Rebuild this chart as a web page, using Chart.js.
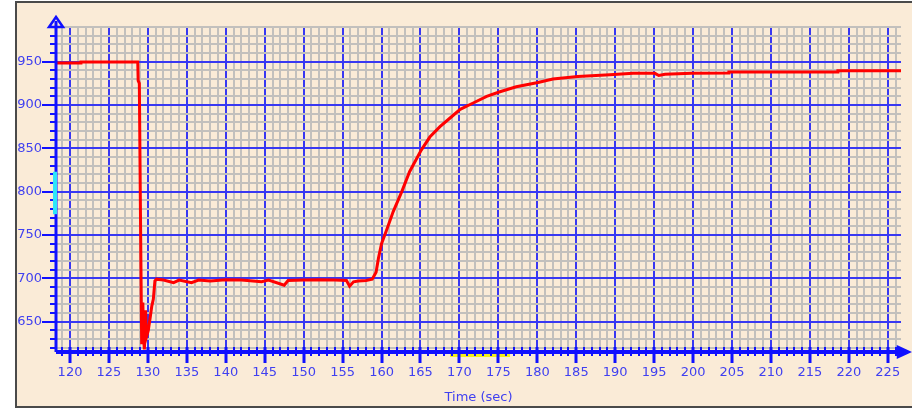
<!DOCTYPE html>
<html>
<head>
<meta charset="utf-8">
<script src="https://cdn.jsdelivr.net/npm/chart.js@4/dist/chart.umd.min.js"></script>
<style>
  html, body { margin: 0; padding: 0; background: #fff; }
  #panel {
    position: absolute; left: 15px; top: 1px; width: 920px; height: 403px;
    background: #faebd7;
    border-left: 2px solid #4a4a4a; border-top: 2px solid #4a4a4a; border-bottom: 2px solid #4a4a4a;
  }
  #wrap { position: absolute; left: 0; top: 0; width: 912px; height: 410px; }
</style>
</head>
<body>
<div id="panel"></div>
<div id="wrap"><canvas id="trend" width="912" height="410"></canvas></div>
<script>
// ── Data ─────────────────────────────────────────────────────────────
const timeSec = [
  118.2, 120, 121.3, 121.4, 125, 128.7, 128.75, 128.9, 129.1, 129.2,
  129.35, 129.45, 129.55, 129.7, 129.8, 130.05, 130.3, 130.5, 130.7, 130.9,
  131.1, 132, 133.3, 134, 135.6, 136.5, 138, 140, 142, 144.6,
  145.5, 147.5, 148, 150, 152, 154, 155.5, 155.9, 156.4, 157,
  158, 158.8, 159.3, 159.6, 160.0, 160.7, 161.5, 162.6, 163.6, 165.1,
  166.2, 167.5, 168.8, 170.1, 171.7, 173.5, 175.1, 177.3, 180.1, 182,
  185.2, 189.3, 192.3, 195.1, 195.6, 196.4, 199.8, 204.5, 204.6, 218.5,
  218.6, 226.7
];
const reading = [
  948.5, 948.5, 948.5, 949.5, 949.5, 949.5, 928, 925, 720, 624,
  672, 630, 618, 663, 632, 640, 655, 668, 676, 697,
  699, 698, 695, 698, 695, 698, 697, 698.5, 698, 696,
  698, 692, 697.5, 698, 698.5, 698, 697.5, 691, 696, 697,
  697.5, 699, 707, 723, 740, 757, 777, 800, 823, 848,
  863, 875, 885, 895, 902, 910, 915, 921, 926, 930,
  933, 935, 936.5, 936.5, 934, 935.5, 936.5, 937, 938, 938,
  939.5, 939.5
];

// axis ranges and tick steps
const xRange = [118.2, 226.7];
const yRange = [615, 990];
const xMinorStep = 1, xMajorStep = 5;
const yMinorStep = 10, yMajorStep = 50;

// marker bands seen on the axes (cursor range on x, highlight on y)
const cursorBand = [168.8, 176.5];
const levelBand  = [774, 823];

const BLUE  = '#3838f2';
const AXIS  = '#1010ff';
const GRAY  = '#c2c0bd';
const LABEL = '#4040f0';

function stepList(from, to, step) {
  const out = [];
  for (let v = from; v <= to + 1e-9; v += step) out.push({ value: v });
  return out;
}

// ── Axis lines, tick marks, arrows and marker bands ──────────────────
const axisDecor = {
  id: 'axisDecor',
  afterDatasetsDraw(chart) {
    const { ctx, chartArea: a, scales: { x, y } } = chart;
    ctx.save();

    // yellow cursor band just under the x axis
    ctx.fillStyle = '#f4ee1c';
    const c0 = x.getPixelForValue(cursorBand[0]), c1 = x.getPixelForValue(cursorBand[1]);
    ctx.fillRect(c0, a.bottom + 2, c1 - c0, 3);

    ctx.strokeStyle = AXIS;
    ctx.fillStyle = AXIS;

    // x axis line + ticks
    ctx.lineWidth = 4;
    ctx.beginPath(); ctx.moveTo(a.left, a.bottom); ctx.lineTo(a.right, a.bottom); ctx.stroke();
    x.ticks.forEach(t => {
      const px = Math.round(x.getPixelForValue(t.value));
      const major = t.value % xMajorStep === 0;
      ctx.lineWidth = major ? 3 : 2;
      ctx.beginPath();
      ctx.moveTo(px, a.bottom - 5);
      ctx.lineTo(px, a.bottom + (major ? 11 : 4));
      ctx.stroke();
    });

    // y axis line + ticks
    ctx.lineWidth = 3;
    ctx.beginPath(); ctx.moveTo(a.left, a.top - 6); ctx.lineTo(a.left, a.bottom); ctx.stroke();
    y.ticks.forEach(t => {
      const py = Math.round(y.getPixelForValue(t.value));
      const major = t.value % yMajorStep === 0;
      ctx.lineWidth = 2;
      ctx.beginPath();
      ctx.moveTo(a.left - (major ? 14 : 6), py);
      ctx.lineTo(a.left, py);
      ctx.stroke();
    });

    // cyan highlight on the y axis
    ctx.fillStyle = '#2de6fa';
    const b0 = y.getPixelForValue(levelBand[1]), b1 = y.getPixelForValue(levelBand[0]);
    ctx.fillRect(a.left - 3, b0, 4, b1 - b0);

    // arrow heads
    ctx.fillStyle = AXIS;
    ctx.lineWidth = 2.5;
    ctx.beginPath();
    ctx.moveTo(a.left, a.top - 10);
    ctx.lineTo(a.left - 7, a.top);
    ctx.lineTo(a.left + 7, a.top);
    ctx.closePath();
    ctx.stroke();
    ctx.beginPath();
    ctx.moveTo(a.right - 3, a.bottom - 5);
    ctx.lineTo(a.right + 8, a.bottom);
    ctx.lineTo(a.right - 3, a.bottom + 5);
    ctx.closePath();
    ctx.fill();
    ctx.stroke();

    ctx.restore();
  },
};

// ── Chart ────────────────────────────────────────────────────────────
const ctx = document.getElementById('trend').getContext('2d');
new Chart(ctx, {
  type: 'line',
  data: {
    datasets: [{
      data: timeSec.map((t, i) => ({ x: t, y: reading[i] })),
      borderColor: '#ff0000',
      borderWidth: 3,
      pointRadius: 0,
      tension: 0,
      fill: false,
    }],
  },
  options: {
    responsive: false,
    animation: false,
    layout: { padding: { top: 27, right: 11, left: 0, bottom: 0 } },
    plugins: { legend: { display: false }, tooltip: { enabled: false } },
    scales: {
      x: {
        type: 'linear',
        min: xRange[0], max: xRange[1],
        afterBuildTicks: s => { s.ticks = stepList(119, 226, xMinorStep); },
        afterFit: s => { s.height = 58; },
        border: { display: false },
        grid: {
          drawTicks: false,
          color: c => (c.tick && c.tick.value % xMajorStep === 0) ? BLUE : GRAY,
          lineWidth: 2,
        },
        ticks: {
          autoSkip: false, maxRotation: 0, padding: 13,
          color: LABEL, font: { family: 'DejaVu Sans', size: 13 },
          callback: v => (v % xMajorStep === 0 ? v : ''),
        },
        title: {
          display: true, text: 'Time (sec)', color: LABEL,
          font: { family: 'DejaVu Sans', size: 13 },
          padding: { top: 0, bottom: 5 },
        },
      },
      y: {
        min: yRange[0], max: yRange[1],
        afterBuildTicks: s => { s.ticks = stepList(620, 990, yMinorStep); },
        afterFit: s => { s.width = 56; },
        border: { display: false },
        grid: {
          drawTicks: false,
          color: c => (c.tick && c.tick.value % yMajorStep === 0) ? BLUE : GRAY,
          lineWidth: 2,
        },
        ticks: {
          autoSkip: false, padding: 14,
          color: LABEL, font: { family: 'DejaVu Sans', size: 13 },
          callback: v => (v % yMajorStep === 0 ? v : ''),
        },
      },
    },
  },
  plugins: [axisDecor],
});
</script>
</body>
</html>
